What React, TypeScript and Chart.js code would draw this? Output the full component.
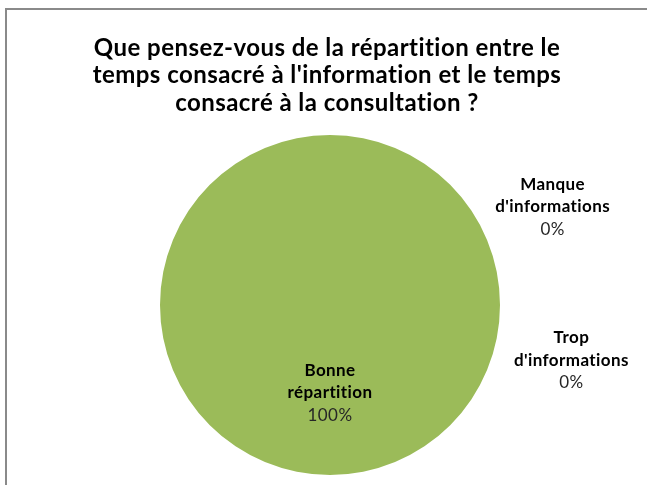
import React, { useEffect, useRef } from "react";
import { Chart, registerables } from "chart.js";

Chart.register(...registerables);

const titleLines = [
  "Que pensez-vous de la répartition entre le",
  "temps consacré à l'information et le temps",
  "consacré à la consultation ?",
];
const categories = ["Manque d'informations", "Trop d'informations", "Bonne répartition"];
const labelLines = [["Manque", "d'informations"], ["Trop", "d'informations"], ["Bonne", "répartition"]];
const values = [0, 0, 100];
const colors = ["#4F81BD", "#C0504D", "#9BBB59"];

const FONT = "Lato, 'Open Sans', sans-serif";

const titlePlugin = {
  id: "customTitle",
  afterDraw(chart: any) {
    const ctx = chart.ctx;
    const a = chart.chartArea;
    const cx = (a.left + a.right) / 2 - 3;
    ctx.save();
    ctx.textAlign = "center";
    ctx.textBaseline = "middle";
    ctx.fillStyle = "#000000";
    ctx.font = `bold 24px ${FONT}`;
    (ctx as any).letterSpacing = "0.45px";
    titleLines.forEach((t, i) => ctx.fillText(t, cx, 48 + i * 27.5));
    ctx.restore();
  },
};

const labelPlugin = {
  id: "pieLabels",
  afterDraw(chart: any) {
    const ctx = chart.ctx;
    const meta = chart.getDatasetMeta(0);
    const data = chart.data.datasets[0].data as number[];
    const total = data.reduce((a, b) => a + b, 0);
    const rel = [
      { dx: 1.31, dy: -0.71 },
      { dx: 1.42, dy: 0.194 },
      { dx: 0.0, dy: 0.385 },
    ];
    ctx.save();
    ctx.textAlign = "center";
    ctx.textBaseline = "middle";
    (ctx as any).letterSpacing = "0.4px";
    meta.data.forEach((arc: any, i: number) => {
      const r = arc.outerRadius;
      const cx = arc.x + rel[i].dx * r;
      const cy = arc.y + rel[i].dy * r;
      const pct = Math.round((data[i] / total) * 100) + "%";
      const lh = 22.5;
      ctx.fillStyle = "#000000";
      ctx.font = `bold 17px ${FONT}`;
      labelLines[i].forEach((t, k) => ctx.fillText(t, cx, cy + k * lh));
      ctx.fillStyle = "#262626";
      ctx.font = `17px ${FONT}`;
      ctx.fillText(pct, cx, cy + labelLines[i].length * lh);
    });
    ctx.restore();
  },
};

export default function App() {
  const ref = useRef<HTMLCanvasElement>(null);
  useEffect(() => {
    document.body.style.margin = "0";
    const chart = new Chart(ref.current!, {
      type: "pie",
      data: {
        labels: categories,
        datasets: [
          {
            data: values,
            backgroundColor: colors,
            borderWidth: 0,
          },
        ],
      },
      options: {
        animation: false,
        responsive: true,
        maintainAspectRatio: false,
        layout: { padding: { left: 160, right: 147, top: 135, bottom: 10 } },
        plugins: {
          legend: { display: false },
          tooltip: { enabled: false },
          title: { display: false },
        },
      },
      plugins: [titlePlugin, labelPlugin],
    });
    return () => chart.destroy();
  }, []);
  return (
    <div style={{ position: "relative", width: 647, height: 485, background: "#fff", overflow: "hidden" }}>
      <div
        style={{
          position: "absolute",
          left: 5,
          top: 8,
          width: 700,
          height: 600,
          borderLeft: "2px solid #8a8a8a",
          borderTop: "2px solid #8a8a8a",
        }}
      />
      <canvas ref={ref} style={{ position: "absolute", left: 0, top: 0, width: 647, height: 485 }} />
    </div>
  );
}
